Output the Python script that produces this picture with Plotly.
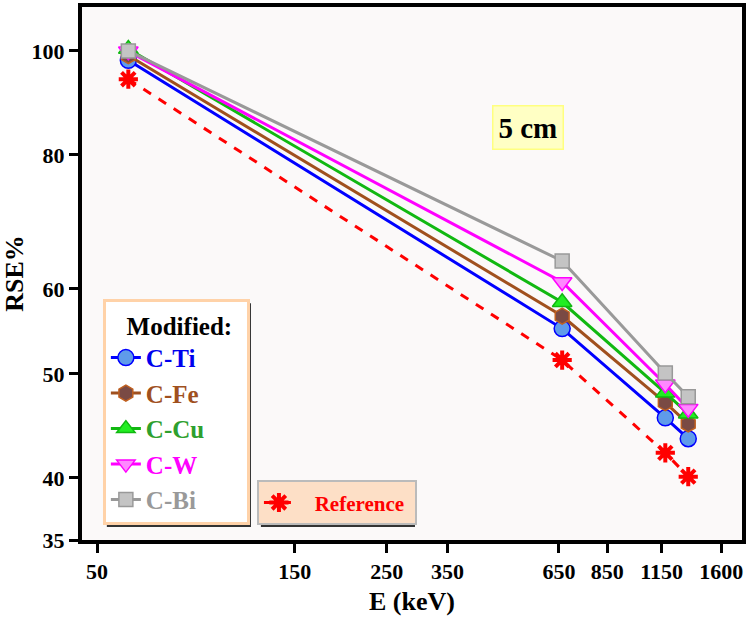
import plotly.graph_objects as go

energy = [59.5, 661.7, 1173.2, 1332.5]
ti = [98.0, 55.1, 45.5, 43.5]
fe = [99.0, 56.6, 47.0, 44.9]
cu = [100.4, 58.3, 48.0, 45.9]
w = [99.9, 60.9, 48.9, 46.4]
bi = [100.0, 63.7, 50.1, 47.6]
ref = [94.1, 51.5, 42.2, 40.1]

x_ticks = [50, 150, 250, 350, 650, 850, 1150, 1600]
y_ticks = [35, 40, 50, 60, 80, 100]

FONT = "Liberation Serif"

series = [
    ("C-Ti", ti, "#0000FF", "circle", "#5F9BEA", "#0000FF", 16, "#0000EE"),
    ("C-Fe", fe, "#A0501E", "hexagon", "#7A4A44", "#C06020", 16, "#A0501E"),
    ("C-Cu", cu, "#11B811", "triangle-up", "#22EE22", "#11B811", 17, "#2EA02E"),
    ("C-W", w, "#FF00FF", "triangle-down", "#FF88FF", "#FF00FF", 17, "#FF00FF"),
    ("C-Bi", bi, "#999999", "square", "#C4C4C4", "#999999", 14, "#999999"),
]

fig = go.Figure()
for name, vals, lc, sym, mfill, mline, msz, tc in series:
    fig.add_trace(go.Scatter(
        x=energy, y=vals, mode="lines+markers",
        name=f"<b><span style='color:{tc}'>{name}</span></b>",
        line=dict(color=lc, width=3),
        marker=dict(symbol=sym, size=msz, color=mfill, line=dict(color=mline, width=1.5)),
        legend="legend",
    ))

fig.add_trace(go.Scatter(
    x=energy, y=ref, mode="lines+markers",
    name="<b><span style='color:#FF0000'>&nbsp;&nbsp;&nbsp;Reference&nbsp;</span></b>",
    line=dict(color="#FF0000", width=3, dash="dash"),
    marker=dict(symbol="asterisk", size=16, color="#FF0000", line=dict(color="#FF0000", width=4)),
    legend="legend2",
))

def px_x(p):
    return (p - 82) / 664

def px_y(p):
    return (540 - p) / 536

shadow = "#333333"
shapes = [
    dict(type="rect", xref="paper", yref="paper", layer="above",
         x0=px_x(107), x1=px_x(252), y0=px_y(302), y1=px_y(527),
         fillcolor=shadow, line=dict(width=0)),
    dict(type="rect", xref="paper", yref="paper", layer="above",
         x0=px_x(262), x1=px_x(417), y0=px_y(484), y1=px_y(527),
         fillcolor=shadow, line=dict(width=0)),
]

fig.update_layout(
    width=749, height=617,
    margin=dict(l=82, r=3, t=4, b=77),
    paper_bgcolor="white",
    plot_bgcolor="#FBF9F9",
    font=dict(family=FONT, size=20, color="black"),
    showlegend=True,
    shapes=shapes,
    legend=dict(
        x=px_x(103), y=px_y(298), xanchor="left", yanchor="top",
        bgcolor="white", bordercolor="#FFD2A8", borderwidth=3,
        title=dict(text="<b>&nbsp;&nbsp;&nbsp;Modified:&nbsp;&nbsp;</b>", font=dict(family=FONT, size=25, color="black")),
        font=dict(family=FONT, size=25),
        tracegroupgap=0,
    ),
    legend2=dict(
        x=px_x(258), y=px_y(480), xanchor="left", yanchor="top",
        bgcolor="#FDDFC6", bordercolor="#BBBBBB", borderwidth=2,
        font=dict(family=FONT, size=21),
    ),
    xaxis=dict(
        type="log", range=[1.6628, 3.2543],
        tickvals=x_ticks, ticktext=[f"<b>{v}</b>" for v in x_ticks],
        ticks="outside", ticklen=9, tickwidth=3, tickcolor="black",
        showgrid=False, zeroline=False,
        showline=True, linecolor="black", linewidth=4, mirror=True,
        tickfont=dict(family=FONT, size=22, color="black"),
        title=dict(text="<b>E (keV)</b>", font=dict(family=FONT, size=26, color="black"), standoff=9),
    ),
    yaxis=dict(
        type="log", range=[1.5441, 2.0409],
        tickvals=y_ticks, ticktext=[f"<b>{v}</b>" for v in y_ticks],
        ticks="outside", ticklen=9, tickwidth=3, tickcolor="black",
        showgrid=False, zeroline=False,
        showline=True, linecolor="black", linewidth=4, mirror=True,
        tickfont=dict(family=FONT, size=22, color="black"),
        title=dict(text="<b>RSE%</b>", font=dict(family=FONT, size=26, color="black"), standoff=8),
    ),
    annotations=[dict(
        x=0.675, y=0.774, xref="paper", yref="paper", xanchor="center", yanchor="middle",
        text="<b>5 cm</b>", showarrow=False,
        font=dict(family=FONT, size=29, color="black"),
        bgcolor="#FFFFC4", bordercolor="#FFFF80", borderwidth=1.5, borderpad=5,
    )],
)

fig.write_html("out.html")
